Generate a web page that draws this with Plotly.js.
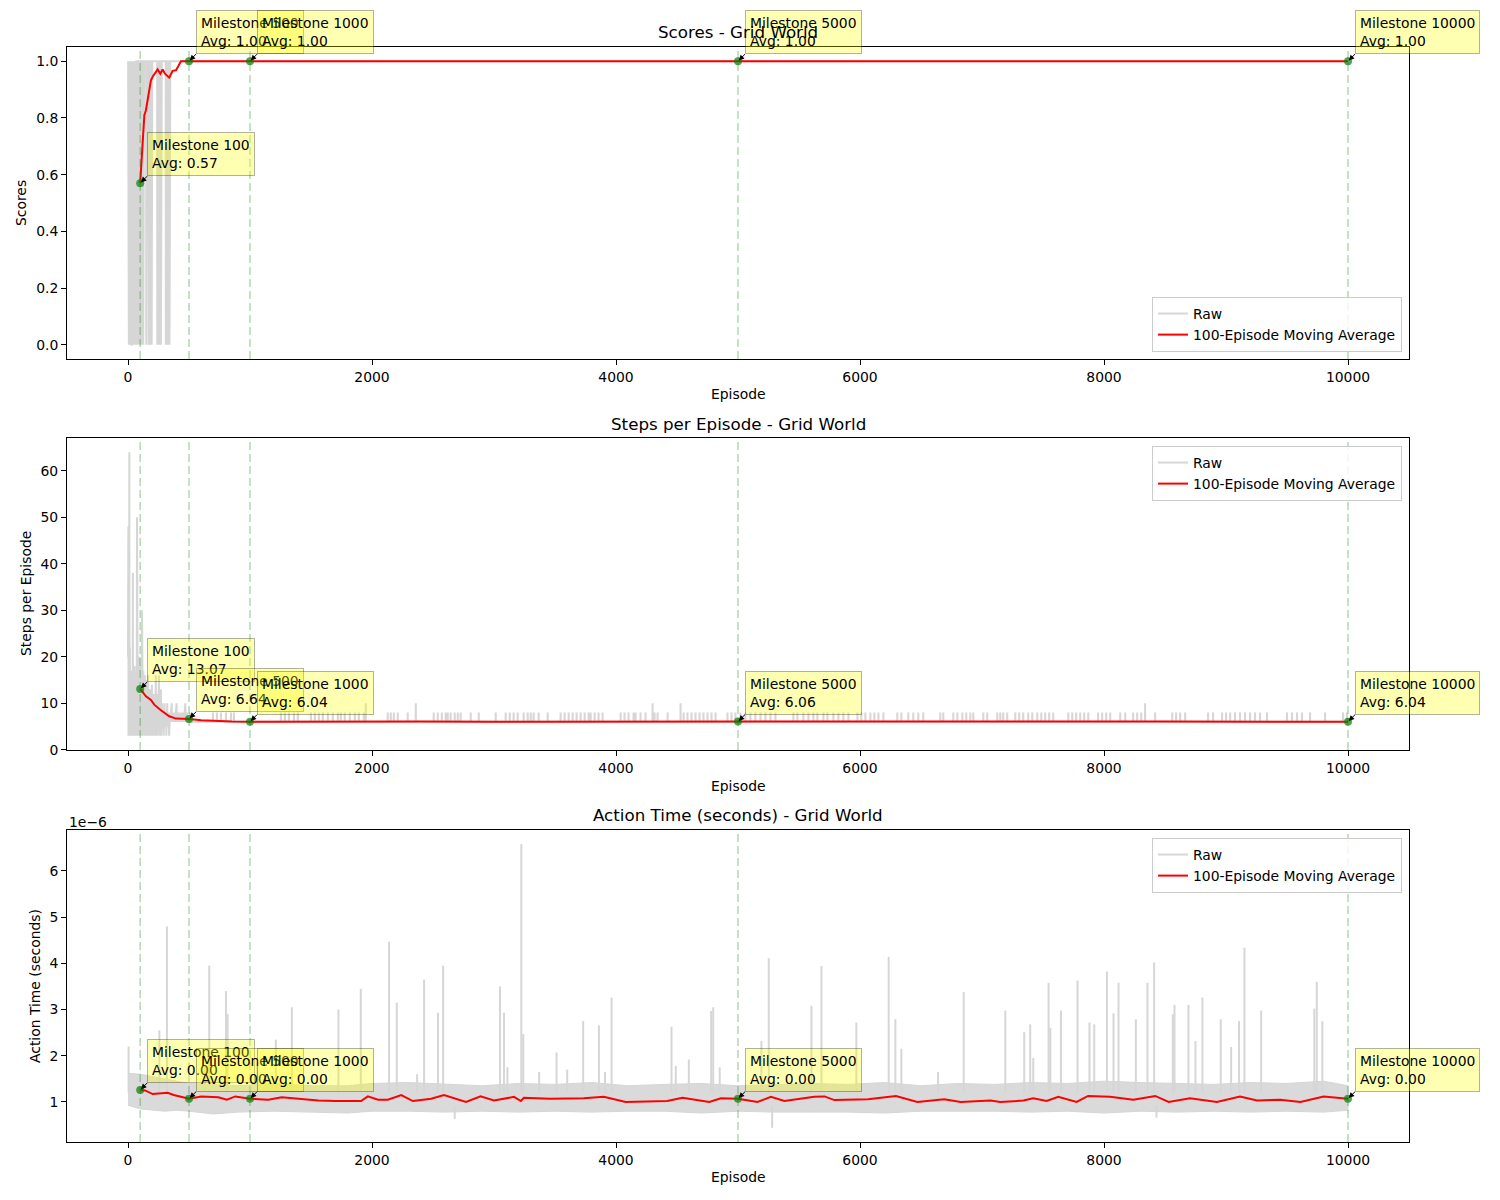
<!DOCTYPE html>
<html><head><meta charset="utf-8">
<script src="https://cdn.plot.ly/plotly-3.0.1.min.js"></script>
<style>body{margin:0;background:#fff}#chart{width:1500px;height:1200px}</style>
</head><body><div id="chart"></div>
<script>
// ---------------- DATA ----------------
const milestones = [100, 500, 1000, 5000, 10000];
const scoreMilestoneAvg = [0.57, 1.00, 1.00, 1.00, 1.00];
const stepMilestoneAvg = [13.07, 6.64, 6.04, 6.06, 6.04];
const timeMilestoneAvgMicro = [1.26, 1.07, 1.07, 1.07, 1.07];

const xTicks = [0, 2000, 4000, 6000, 8000, 10000];
const xTickLabels = ['0', '2000', '4000', '6000', '8000', '10000'];

// Scores: episodes where the raw score was 0 (all other episodes scored 1)
const scoreFailureEpisodes = [2,4,5,7,9,10,12,14,15,17,19,21,22,24,26,28,30,31,33,35,37,39,41,43,45,47,50,52,54,57,60,62,65,68,71,74,77,80,84,88,92,96,99,
  108,125,150,170,185,194,240,255,270,310,325,340];
// Scores moving average
const scoreAvgEpisodes = [100,120,134,147,166,175,188,202,229,243,265,284,303,338,366,393,412,434,10000];
const scoreAvgValues   = [0.57,0.72,0.81,0.827,0.874,0.909,0.933,0.945,0.962,0.971,0.956,0.971,0.956,0.942,0.966,0.968,0.982,1.0,1.0];

// Steps: early raw episodes (noisy learning phase)
const earlyStepEpisodes = [0,1,3,4,6,8,11,12,15,17,20,22,25,27,30,32,35,37,40,41,44,46,49,51,54,56,59,61,64,66,69,71,74,75,78,80,83,85,88,90,93,95,98,100,
  104,106,110,112,115,116,120,122,126,128,132,134,138,140,145,147,152,154,158,160,165,167,172,174,180,182,188,190,196,198,
  204,206,212,214,220,222,228,230,236,238,245,247,254,256,262,264,270,272,280,282,290,292,300,302,312,314,322,324,335,337,
  345,347,358,360,372,374,385,387,398,400,412,414,425,427,440,442,455,457,470,472,485,487,500];
const earlyStepValues = [20,5,48,3,14,4,64,3,22,4,12,3,17,5,9,3,14,4,38,3,38,5,12,3,18,4,10,3,15,4,12,3,50,4,26,3,16,5,13,3,20,4,14,3,
  11,4,18,3,30,4,14,3,17,5,12,3,16,4,10,3,15,5,9,3,16,4,11,3,13,5,9,3,14,4,
  10,3,12,5,9,3,16,4,10,3,12,5,16,3,9,4,13,3,10,5,8,3,10,5,8,3,10,5,8,3,
  8,6,10,6,8,6,8,6,10,6,8,6,8,6,8,6,8,6,10,6,8,6,6];
// Steps: later episodes sit at 6 steps; these are the episodes that took longer
const stepBumpEpisodes = [508,696,729,762,803,844,868,1253,1286,1319,1360,1392,1499,1532,1564,1597,1638,1679,1720,1744,1777,1818,1859,1892,1933,1949,
  2129,2154,2179,2211,2293,2359,2506,2539,2572,2604,2621,2645,2678,2703,2727,2809,2875,3014,3096,3129,3161,3194,3243,3276,3301,3325,3366,3440,
  3546,3579,3612,3645,3677,3710,3743,3776,3792,3825,3857,3890,4038,4070,4103,4144,4161,4201,4242,4300,4316,4341,4423,4529,4554,
  4586,4619,4652,4685,4717,4750,4783,4816,4914,4947,4979,5020,5061,5102,5143,5184,5225,5266,5307,5454,5487,5536,5577,5618,5651,
  5700,5733,5782,5823,5864,5905,5979,6011,6044,6085,6118,6151,6192,6306,6339,6396,6437,6478,6519,6658,6683,6765,6798,6839,6871,
  6904,6929,7011,7043,7125,7150,7174,7207,7273,7305,7338,7379,7412,7453,7486,7518,7551,7584,7707,7740,7772,7805,7838,7871,
  7952,7985,8018,8051,8133,8174,8239,8272,8305,8337,8419,8559,8591,8624,8665,8853,8894,8968,9001,9034,9074,9115,9156,9197,
  9238,9279,9336,9500,9541,9582,9623,9689,9812,9959,9992];
const stepTallBumps = [1949, 2359, 4300, 4529, 8337];
const stepBumpValues = stepBumpEpisodes.map(e => (stepTallBumps.includes(e) ? 10 : 8));
const stepBaseline = 6;
// Steps moving average
const stepAvgEpisodes = [100,147,188,215,270,338,393,450,500,600,700,850,1000,1500,2000,2400,3000,3500,4000,4500,5000,5500,6000,6500,7000,7500,8000,8500,9000,9500,10000];
const stepAvgValues   = [13.07,11.5,10.7,9.7,8.5,7.2,6.7,6.68,6.64,6.35,6.2,6.1,6.04,6.1,6.06,6.1,6.04,6.06,6.03,6.08,6.06,6.08,6.1,6.04,6.04,6.06,6.08,6.06,6.03,6.04,6.04];

// Action time (in units of 1e-6 s): dense noise band envelope
const timeBandEpisodes = [0,100,200,300,400,500,700,900,1200,1500,1800,2000,2300,2600,2900,3200,3500,3800,4100,4400,4700,5000,5300,5600,5900,6200,6500,6800,7100,7400,7700,8000,8300,8600,8900,9200,9500,9800,10000];
const timeBandLower = [0.93,0.85,0.82,0.8,0.82,0.8,0.74,0.78,0.8,0.78,0.76,0.8,0.8,0.78,0.8,0.78,0.8,0.78,0.8,0.8,0.76,0.8,0.78,0.78,0.78,0.76,0.8,0.8,0.8,0.78,0.8,0.76,0.8,0.78,0.8,0.78,0.8,0.78,0.82];
const timeBandUpper = [1.62,1.6,1.55,1.5,1.45,1.4,1.38,1.35,1.4,1.35,1.35,1.4,1.42,1.38,1.35,1.4,1.38,1.42,1.35,1.38,1.4,1.35,1.38,1.4,1.38,1.42,1.35,1.4,1.38,1.42,1.4,1.45,1.42,1.4,1.38,1.42,1.4,1.45,1.35];
// Action time isolated spikes (episode, value in 1e-6 s)
const timeSpikeEpisodes = [5,257,319,630,666,803,816,1060,1212,1343,1725,1908,2140,2203,2370,2427,2541,2583,2678,3049,3082,3110,3224,3240,3370,3513,3600,3731,3860,3910,3964,
  4455,4490,4597,4780,4797,4850,5192,5252,5280,5602,5684,5970,6235,6290,6339,6640,6850,7191,7346,7395,7420,7546,7560,7647,7783,7881,7920,8024,8078,8119,
  8261,8356,8411,8430,8564,8578,8692,8750,8807,8957,9042,9107,9151,9288,9724,9744,9790];
const timeSpikeValues = [2.2,2.55,4.8,1.8,3.95,3.4,2.9,1.85,2.35,3.05,3.0,3.45,4.47,3.15,1.6,3.65,2.93,3.95,0.63,3.5,2.93,1.75,6.58,2.47,1.65,2.07,1.7,2.75,2.66,1.65,3.26,
  2.63,1.78,1.92,2.97,3.05,1.75,2.32,4.11,0.44,3.08,3.94,2.72,4.14,2.79,2.15,1.65,3.38,2.98,2.51,2.68,1.95,3.58,2.6,2.98,3.63,2.72,2.68,3.82,2.92,3.58,
  2.79,3.58,4.02,0.66,2.9,3.1,3.1,2.32,3.26,2.79,2.19,2.75,4.34,2.98,3.02,3.6,2.75];
// Action time moving average
const timeAvgEpisodes = [100,140,202,325,375,500,600,740,810,880,1000,1150,1260,1420,1560,1700,1805,1910,1966,2050,2130,2240,2335,2485,2590,2770,2890,3000,
  3164,3220,3245,3460,3735,3900,4080,4420,4545,4765,4860,5000,5160,5270,5380,5625,5710,5790,6065,6295,6470,6690,6825,7070,7150,
  7340,7420,7530,7625,7775,7870,8050,8240,8420,8530,8705,8925,9115,9255,9445,9610,9800,10000];
const timeAvgValues = [1.26,1.25,1.17,1.2,1.15,1.07,1.12,1.1,1.05,1.12,1.07,1.05,1.1,1.06,1.03,1.02,1.02,1.02,1.12,1.05,1.05,1.15,1.02,1.07,1.15,1.0,1.12,1.03,
  1.11,1.02,1.09,1.07,1.08,1.11,1.0,1.02,1.09,1.0,1.08,1.07,1.0,1.11,1.02,1.11,1.12,1.04,1.06,1.13,1.0,1.06,1.0,1.03,1.0,
  1.03,1.08,1.02,1.11,1.0,1.13,1.11,1.05,1.13,1.0,1.08,1.0,1.12,1.03,1.05,1.0,1.12,1.07];

// ---------------- BUILD ----------------
const FONT = 'DejaVu Sans, Liberation Sans, sans-serif';
const RAW = '#d6d6d6';
const RED = '#ff0000';
const px = p => p / 1500;
const py = p => 1 - p / 1200;

const failSet = new Set(scoreFailureEpisodes);
const scoreRawX = [], scoreRawY = [];
for (let e = 1; e <= 10000; e++) { scoreRawX.push(e); scoreRawY.push(failSet.has(e) ? 0 : 1); }

const stepRawX = earlyStepEpisodes.slice(), stepRawY = earlyStepValues.slice();
stepBumpEpisodes.forEach((e, i) => { stepRawX.push(e - 1, e, e + 1); stepRawY.push(stepBaseline, stepBumpValues[i], stepBaseline); });
stepRawX.push(10000); stepRawY.push(stepBaseline);

const bandX = timeBandEpisodes.concat(timeBandEpisodes.slice().reverse());
const bandY = timeBandUpper.concat(timeBandLower.slice().reverse());
const spikeX = [], spikeY = [];
timeSpikeEpisodes.forEach((e, i) => {
  const v = timeSpikeValues[i];
  spikeX.push(e, e, null); spikeY.push(v > 1 ? 1.2 : 0.9, v, null);
});

const traces = [
  {x: scoreRawX, y: scoreRawY, xaxis:'x', yaxis:'y', mode:'lines', line:{color:RAW, width:2}, name:'Raw', legend:'legend'},
  {x: scoreAvgEpisodes, y: scoreAvgValues, xaxis:'x', yaxis:'y', mode:'lines', line:{color:RED, width:2}, name:'100-Episode Moving Average', legend:'legend'},
  {x: milestones, y: scoreMilestoneAvg, xaxis:'x', yaxis:'y', mode:'markers', marker:{color:'rgba(0,128,0,0.7)', size:8}, showlegend:false},

  {x: stepRawX, y: stepRawY, xaxis:'x2', yaxis:'y2', mode:'lines', line:{color:RAW, width:2}, name:'Raw', legend:'legend2'},
  {x: stepAvgEpisodes, y: stepAvgValues, xaxis:'x2', yaxis:'y2', mode:'lines', line:{color:RED, width:2}, name:'100-Episode Moving Average', legend:'legend2'},
  {x: milestones, y: stepMilestoneAvg, xaxis:'x2', yaxis:'y2', mode:'markers', marker:{color:'rgba(0,128,0,0.7)', size:8}, showlegend:false},

  {x: bandX, y: bandY, xaxis:'x3', yaxis:'y3', mode:'lines', fill:'toself', fillcolor:'rgba(214,214,214,0.9)', line:{color:RAW, width:1}, showlegend:false, hoverinfo:'skip'},
  {x: spikeX, y: spikeY, xaxis:'x3', yaxis:'y3', mode:'lines', line:{color:RAW, width:2}, name:'Raw', legend:'legend3', connectgaps:false},
  {x: timeAvgEpisodes, y: timeAvgValues, xaxis:'x3', yaxis:'y3', mode:'lines', line:{color:RED, width:2}, name:'100-Episode Moving Average', legend:'legend3'},
  {x: milestones, y: timeMilestoneAvgMicro, xaxis:'x3', yaxis:'y3', mode:'markers', marker:{color:'rgba(0,128,0,0.7)', size:8}, showlegend:false},
];

const tickFont = {family: FONT, size: 13.9, color: '#000'};
function xAxis(anchor) {
  return {domain:[px(67), px(1409)], range:[-500, 10500], anchor, tickvals:xTicks, ticktext:xTickLabels, ticks:'outside', ticklen:5, tickwidth:1, tickcolor:'#000',
    showline:true, mirror:true, linecolor:'#000', linewidth:1, showgrid:false, zeroline:false, tickfont:tickFont};
}
function yAxis(anchor, top, bottom, range, extra) {
  return Object.assign({domain:[py(bottom), py(top)], range, anchor, ticks:'outside', ticklen:5, tickwidth:1, tickcolor:'#000',
    showline:true, mirror:true, linecolor:'#000', linewidth:1, showgrid:false, zeroline:false, tickfont:tickFont}, extra);
}

const shapes = [];
['x','x2','x3'].forEach((xr, k) => {
  const yr = ['y','y2','y3'][k];
  milestones.forEach(m => shapes.push({type:'line', xref:xr, yref: yr + ' domain', x0:m, x1:m, y0:0, y1:1, layer:'above',
    line:{color:'rgba(0,128,0,0.3)', width:1.5, dash:'8px,4px'}}));
});

const annFont = {family: FONT, size: 13.9, color: '#000'};
const annotations = [];
function milestoneNotes(xr, yr, vals, labelVals) {
  milestones.forEach((m, i) => annotations.push({
    x: m, y: vals[i], xref: xr, yref: yr, text: `Milestone ${m}<br>Avg: ${labelVals[i]}`,
    showarrow: true, ax: 7, ay: -7, xanchor: 'left', yanchor: 'bottom', align: 'left',
    bgcolor: 'rgba(255,255,0,0.3)', bordercolor: 'rgba(0,0,0,0.3)', borderwidth: 1, borderpad: 4,
    arrowhead: 2, arrowsize: 1.1, arrowwidth: 1, arrowcolor: '#000', standoff: 1, startstandoff: 0, font: annFont
  }));
}
milestoneNotes('x', 'y', scoreMilestoneAvg, scoreMilestoneAvg.map(v => v.toFixed(2)));
milestoneNotes('x2', 'y2', stepMilestoneAvg, stepMilestoneAvg.map(v => v.toFixed(2)));
milestoneNotes('x3', 'y3', timeMilestoneAvgMicro, timeMilestoneAvgMicro.map(v => (v * 1e-6).toFixed(2)));

function label(text, x, y, opts) {
  annotations.push(Object.assign({text, x: px(x), y: py(y), xref:'paper', yref:'paper', showarrow:false,
    xanchor:'center', yanchor:'middle', font:{family: FONT, size: 13.9, color:'#000'}}, opts || {}));
}
label('Scores - Grid World', 738, 32, {font:{family:FONT, size:16.7, color:'#000'}});
label('Steps per Episode - Grid World', 738, 424, {font:{family:FONT, size:16.7, color:'#000'}});
label('Action Time (seconds) - Grid World', 738, 815, {font:{family:FONT, size:16.7, color:'#000'}});
label('Episode', 738, 394); label('Episode', 738, 786); label('Episode', 738, 1177);
label('Scores', 21, 203, {textangle:-90});
label('Steps per Episode', 26, 594, {textangle:-90});
label('Action Time (seconds)', 35, 986, {textangle:-90});
label('1e\u22126', 67, 822, {xanchor:'left'});

const legendBase = {xanchor:'right', x: px(1402), bgcolor:'rgba(255,255,255,0.8)', bordercolor:'#cccccc', borderwidth:1,
  font:{family:FONT, size:13.9, color:'#000'}, tracegroupgap:0};

const layout = {
  width: 1500, height: 1200, margin:{l:0, r:0, t:0, b:0}, paper_bgcolor:'#fff', plot_bgcolor:'#fff',
  font:{family: FONT},
  xaxis: xAxis('y'), xaxis2: xAxis('y2'), xaxis3: xAxis('y3'),
  yaxis: yAxis('x', 47, 359, [-0.05, 1.05], {tickvals:[0,0.2,0.4,0.6,0.8,1.0], tickformat:'.1f'}),
  yaxis2: yAxis('x2', 438, 750, [-0.05, 67.05], {tickvals:[0,10,20,30,40,50,60]}),
  yaxis3: yAxis('x3', 830, 1142, [0.133, 6.887], {tickvals:[1,2,3,4,5,6]}),
  legend: Object.assign({}, legendBase, {y: py(352), yanchor:'bottom'}),
  legend2: Object.assign({}, legendBase, {y: py(446), yanchor:'top'}),
  legend3: Object.assign({}, legendBase, {y: py(838), yanchor:'top'}),
  shapes, annotations, showlegend: true
};

Plotly.newPlot('chart', traces, layout, {staticPlot: true});
</script>
</body></html>
